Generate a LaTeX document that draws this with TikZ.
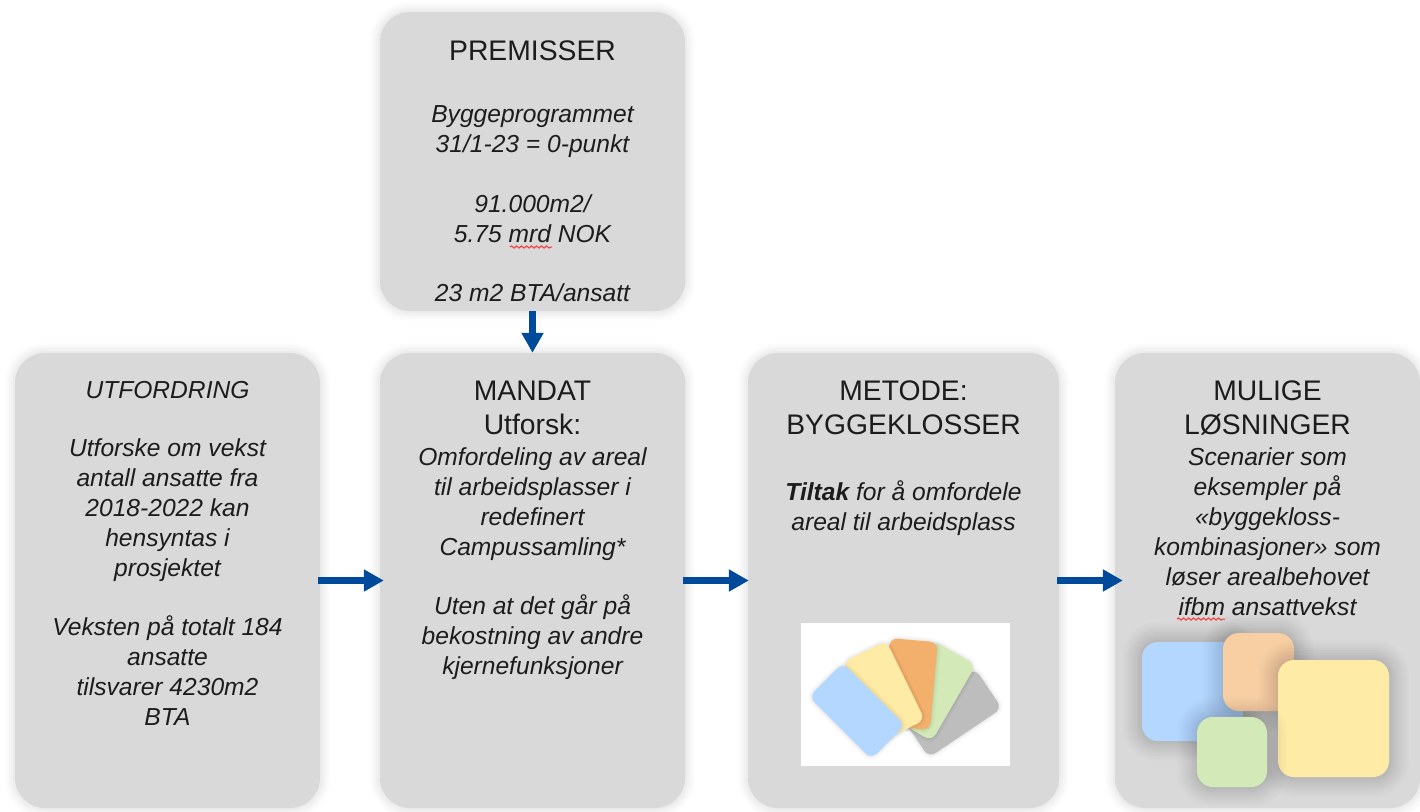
\documentclass[tikz,border=0pt]{standalone}
\usepackage{fontspec}
\setmainfont{Liberation Sans}
\usetikzlibrary{positioning}
\usetikzlibrary{arrows.meta}
\usetikzlibrary{decorations.pathmorphing}
\definecolor{cardgray}{HTML}{D9D9D9}
\definecolor{flowblue}{HTML}{004A9C}
\definecolor{tileblue}{HTML}{B4D7FF}
\definecolor{tileyellow}{HTML}{FEEBA5}
\definecolor{tileorange}{HTML}{F3B06D}
\definecolor{tilepeach}{HTML}{F7CFA3}
\definecolor{tilegreen}{HTML}{D3EAB8}
\definecolor{tilegray}{HTML}{BDBDBD}
\definecolor{inkgray}{HTML}{1C1C1C}
\tikzset{
  softshadow/.style={
    preaction={draw=black,draw opacity=.010,line width=#1},
    preaction={draw=black,draw opacity=.012,line width=#1*.875},
    preaction={draw=black,draw opacity=.014,line width=#1*.75},
    preaction={draw=black,draw opacity=.016,line width=#1*.625},
    preaction={draw=black,draw opacity=.018,line width=#1*.5},
    preaction={draw=black,draw opacity=.020,line width=#1*.375},
    preaction={draw=black,draw opacity=.022,line width=#1*.25},
    preaction={draw=black,draw opacity=.024,line width=#1*.125}},
  faintshadow/.style={
    preaction={draw=black,draw opacity=.010,line width=#1},
    preaction={draw=black,draw opacity=.012,line width=#1*.8},
    preaction={draw=black,draw opacity=.014,line width=#1*.6},
    preaction={draw=black,draw opacity=.016,line width=#1*.4},
    preaction={draw=black,draw opacity=.018,line width=#1*.2}},
  card/.style={faintshadow=20pt,fill=cardgray,rounded corners=30pt,inner sep=0pt},
  fancard/.style={faintshadow=8pt,rounded corners=8pt,inner sep=0pt,minimum width=88pt,minimum height=48pt},
  block/.style={softshadow=40pt,rounded corners=16pt,inner sep=0pt},
  headtext/.style={align=center,anchor=north,inner sep=0pt,text=inkgray,font=\fontsize{28.3}{34}\selectfont},
  bodytext/.style={align=center,anchor=north,inner sep=0pt,text=inkgray,font=\fontsize{24.6}{30}\selectfont\itshape},
  flow/.style={flowblue,line width=6.5pt,-{Triangle[length=20pt,width=21pt]}},
  hflow/.style={flow,yshift=1.5pt,shorten <=-2pt},
  typo/.style={red!80!white,line width=1pt,decorate,decoration={snake,amplitude=1.1pt,segment length=5pt}}
}
\begin{document}
\begin{tikzpicture}[x=1pt,y=-1pt]
  \useasboundingbox (0,0) rectangle (1420,811);
  \node[card,minimum width=305pt,minimum height=455pt] (utfordring) at (167.5,580.5){};
  \node[card,minimum width=305pt,minimum height=455pt,right of=utfordring,node distance=365pt] (mandat){};
  \node[card,minimum width=311pt,minimum height=455pt,right of=mandat,node distance=371pt] (metode){};
  \node[card,minimum width=305pt,minimum height=455pt,right of=metode,node distance=364pt] (losninger){};
  \node[card,minimum width=305pt,minimum height=299pt] (premisser) at (532.5,161.5){};
  \draw[flow](premisser)--(mandat);
  \draw[hflow,shorten >=-4pt](utfordring)--(mandat);
  \draw[hflow,shorten >=-1pt](mandat)--(metode);
  \draw[hflow,shorten >=-8pt](metode)--(losninger);
  % texts
  \node[headtext] (premisserhead) at (532.5,41){PREMISSER};
  \node[bodytext] (premisserbody) at (532.5,105){Byggeprogrammet\\31/1-23 = 0-punkt\\[30pt]91.000m2/\\5.75 mrd NOK\\[29pt]23 m2 BTA/ansatt};
  \node[bodytext] (utfordringbody) at (167.5,381){UTFORDRING\\[28pt]Utforske om vekst\\antall ansatte fra\\2018-2022 kan\\hensyntas i\\prosjektet\\[29pt]Veksten på totalt 184\\ansatte\\tilsvarer 4230m2\\BTA};
  \node[headtext] (mandathead) at (532.5,381){MANDAT\\Utforsk:};
  \node[bodytext] (mandatbody) at (532.5,447){Omfordeling av areal\\til arbeidsplasser i\\redefinert\\Campussamling*\\[29pt]Uten at det går på\\bekostning av andre\\kjernefunksjoner};
  \node[headtext] (metodehead) at (903.5,381){METODE:\\BYGGEKLOSSER};
  \node[bodytext] (metodebody) at (903.5,480){\textbf{Tiltak} for å omfordele\\areal til arbeidsplass};
  \node[headtext] (losningerhead) at (1267.5,381){MULIGE\\LØSNINGER};
  \node[bodytext] (losningerbody) at (1267.5,447){Scenarier som\\eksempler på\\«byggekloss-\\kombinasjoner» som\\løser arealbehovet\\ifbm ansattvekst};
  % spell check marks
  \draw[typo](510,247)--(552,247);
  \draw[typo](1177,619)--(1225,619);
  % fan of tiles
  \node[fill=white,minimum width=209pt,minimum height=143pt,inner sep=0pt] (fanback) at (905.5,694.5){};
  \node[fancard,fill=tilegray,rotate=34] (fangray) at (952,713){};
  \node[fancard,fill=tilegreen,rotate=60] (fangreen) at (933,691){};
  \node[fancard,fill=tileorange,rotate=85] (fanorange) at (910,684){};
  \node[fancard,fill=tileyellow,rotate=-64] (fanyellow) at (884,691){};
  \node[fancard,fill=tileblue,rotate=-45] (fanblue) at (857,711){};
  % building blocks
  \node[block,fill=tileblue,minimum width=101pt,minimum height=99pt] (blockblue) at (1192.5,691.5){};
  \node[block,fill=tilepeach,minimum width=71pt,minimum height=78pt] (blockorange) at (1258.5,672){};
  \node[block,fill=tileyellow,minimum width=111pt,minimum height=117pt] (blockyellow) at (1333.5,718.5){};
  \node[block,fill=tilegreen,minimum width=70pt,minimum height=70pt] (blockgreen) at (1232,752){};
\end{tikzpicture}
\end{document}
